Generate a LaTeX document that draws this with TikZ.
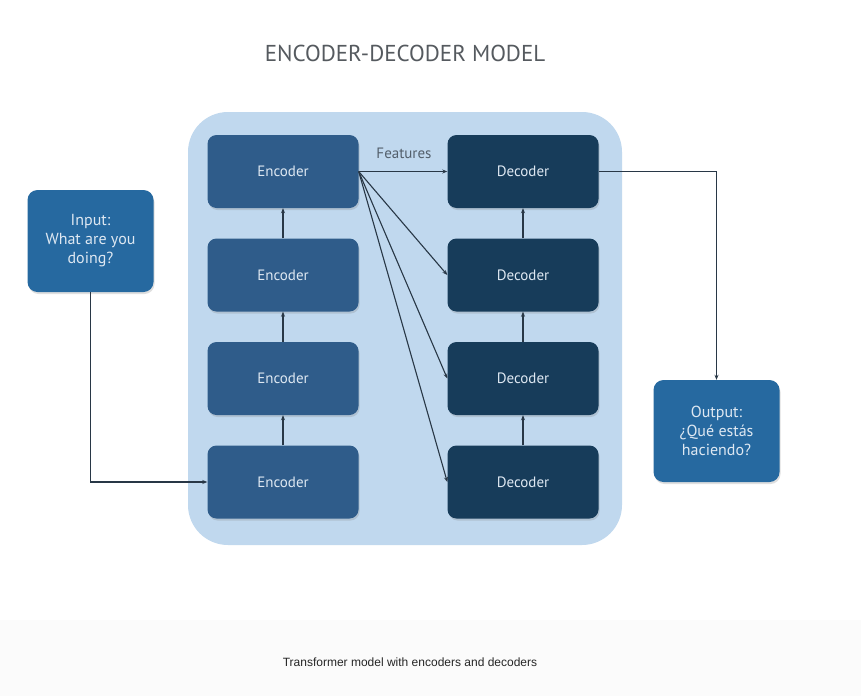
\documentclass[tikz,border=0pt]{standalone}
\usepackage{fontspec}
\setmainfont{PT Sans}
\setsansfont{Liberation Sans}
\usetikzlibrary{arrows.meta,shadows}
\definecolor{encfill}{RGB}{47,92,138}
\definecolor{decfill}{RGB}{23,60,90}
\definecolor{iofill}{RGB}{38,105,160}
\definecolor{contfill}{RGB}{192,216,238}
\definecolor{boxtext}{RGB}{222,232,242}
\definecolor{linecol}{RGB}{40,55,70}
\definecolor{titlecol}{RGB}{85,90,95}
\tikzset{
  blk/.style={rounded corners=9pt, minimum width=151pt, minimum height=73pt,
    text=boxtext, font=\fontsize{15}{17}\selectfont, inner sep=0pt,
    drop shadow={shadow xshift=1pt, shadow yshift=-2pt, opacity=0.25}},
  encbox/.style={blk, fill=encfill},
  decbox/.style={blk, fill=decfill},
  iobox/.style={rounded corners=10pt, minimum width=126pt, minimum height=102pt,
    fill=iofill, text=boxtext, align=center, inner sep=0pt,
    font=\fontsize{16}{19}\selectfont,
    drop shadow={shadow xshift=1pt, shadow yshift=-2pt, opacity=0.25}},
  conn/.style={draw=linecol, line width=1.1pt, -{Stealth[length=5pt,width=4pt]}},
}
\begin{document}
\begin{tikzpicture}[x=1pt,y=-1pt]
\fill[white] (0,0) rectangle (861,696);
\fill[black!1.5] (0,620) rectangle (861,696);
\useasboundingbox (0,0) rectangle (861,696);
% container
\node[fill=contfill, rounded corners=40pt, minimum width=434pt, minimum height=433pt, inner sep=0pt] (cont) at (405,328.5) {};
% title
\node[text=titlecol, font=\fontsize{23}{26}\selectfont] (title) at (405,53) {ENCODER-DECODER MODEL};
% encoders
\node[encbox] (e1) at (283,171.5) {Encoder};
\node[encbox] (e2) at (283,275) {Encoder};
\node[encbox] (e3) at (283,378.5) {Encoder};
\node[encbox] (e4) at (283,482) {Encoder};
% decoders
\node[decbox] (d1) at (523,171.5) {Decoder};
\node[decbox] (d2) at (523,275) {Decoder};
\node[decbox] (d3) at (523,378.5) {Decoder};
\node[decbox] (d4) at (523,482) {Decoder};
% io
\node[iobox] (in) at (90.5,241) {Input:\\What are you\\doing?};
\node[iobox] (out) at (716.5,431) {Output:\\¿Qué estás\\haciendo?};
% features label
\node[text=linecol!80, font=\fontsize{15}{17}\selectfont] (feat) at (404,153) {Features};
% connectors
\draw[conn] (e4.north) -- (e3.south);
\draw[conn] (e3.north) -- (e2.south);
\draw[conn] (e2.north) -- (e1.south);
\draw[conn] (d4.north) -- (d3.south);
\draw[conn] (d3.north) -- (d2.south);
\draw[conn] (d2.north) -- (d1.south);
\draw[conn] (e1.east) -- (d1.west);
\draw[conn] (e1.east) -- (d2.west);
\draw[conn] (e1.east) -- (d3.west);
\draw[conn] (e1.east) -- (d4.west);
\draw[conn] (in.south) |- (e4.west);
\draw[conn] (d1.east) -| (out.north);
% caption
\node[font=\sffamily\fontsize{12}{14}\selectfont, text=black!85] (cap) at (410,662) {Transformer model with encoders and decoders};
\end{tikzpicture}
\end{document}
